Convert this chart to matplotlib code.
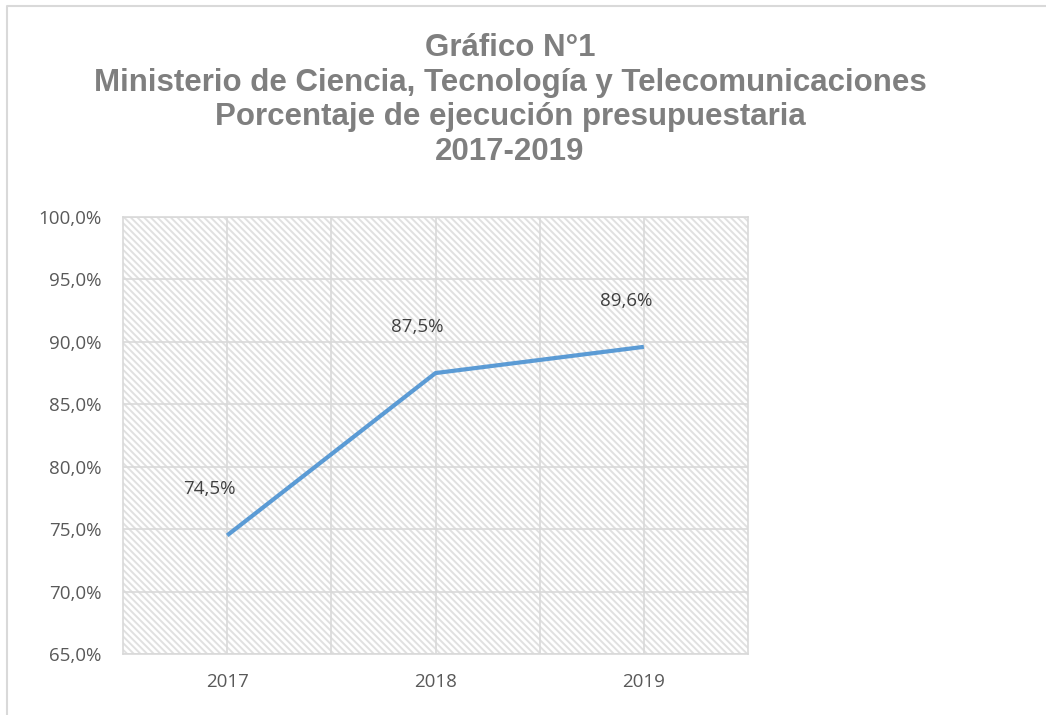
import matplotlib

matplotlib.use("Agg")
import matplotlib.pyplot as plt
from matplotlib.lines import Line2D
from matplotlib.ticker import FixedLocator

anios = ["2017", "2018", "2019"]
ejecucion = [74.5, 87.5, 89.6]
etiquetas = ["74,5%", "87,5%", "89,6%"]
yticks = [65, 70, 75, 80, 85, 90, 95, 100]
titulo = ("Gráfico N°1\n"
          "Ministerio de Ciencia, Tecnología y Telecomunicaciones\n"
          "Porcentaje de ejecución presupuestaria\n"
          "2017-2019")

plt.rcParams["hatch.linewidth"] = 1.4

W, H = 1046, 715
fig = plt.figure(figsize=(W / 100, H / 100), dpi=100)
fig.patch.set_facecolor("white")

# marco del área del gráfico (solo visible arriba y a la izquierda)
borde = "#d9d9d9"
fig.add_artist(Line2D([7 / W, 7 / W, 1.0], [0.0, 1 - 6 / H, 1 - 6 / H],
                      transform=fig.transFigure, color=borde, lw=1.5))

ax = fig.add_axes([123 / W, 61 / H, 625 / W, 437 / H])
ax.set_facecolor("white")
ax.fill_between([-0.5, 2.5], 65, 100, facecolor="white", edgecolor="#e0e0e0",
                hatch="\\" * 5, linewidth=0, zorder=0)

x = list(range(len(anios)))
ax.plot(x, ejecucion, color="#5b9bd5", lw=3, solid_capstyle="butt", zorder=3)
for xi, yi, t in zip(x, ejecucion, etiquetas):
    ax.annotate(t, (xi, yi), xytext=(-18, 46), textcoords="offset pixels",
                ha="center", va="center", fontsize=13.5, color="#404040",
                fontfamily="Open Sans", zorder=4)

ax.set_xlim(-0.5, 2.5)
ax.set_ylim(65, 100)
ax.set_yticks(yticks)
ax.set_yticklabels([f"{v:.1f}%".replace(".", ",") for v in yticks])
ax.set_xticks(x)
ax.set_xticklabels(anios)
ax.xaxis.set_minor_locator(FixedLocator([0.5, 1.5]))
ax.grid(True, which="both", axis="x", color="#d9d9d9", lw=1.2, zorder=1)
ax.grid(True, which="major", axis="y", color="#d9d9d9", lw=1.2, zorder=1)
ax.set_axisbelow(True)
for s in ax.spines.values():
    s.set_color("#d9d9d9")
    s.set_linewidth(1.2)
ax.tick_params(which="both", length=0)
ax.tick_params(axis="y", pad=15.5, labelsize=13.5, labelcolor="#595959")
ax.tick_params(axis="x", pad=14, labelsize=13.5, labelcolor="#595959")
for lab in ax.get_xticklabels() + ax.get_yticklabels():
    lab.set_fontfamily("Open Sans")

fig.text(510 / W, 1 - 100 / H, titulo, ha="center", va="center",
         fontsize=22.5, fontweight="bold", color="#7f7f7f",
         fontfamily="Liberation Sans", linespacing=1.2)

fig.savefig("out.png", dpi=100)
